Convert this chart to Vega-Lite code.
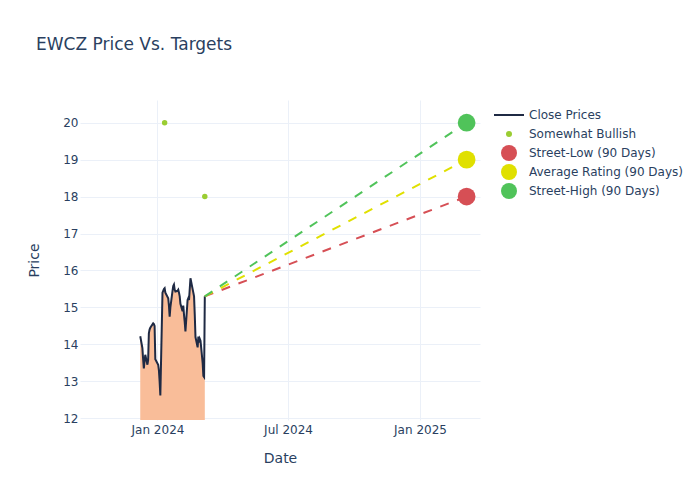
{
  "$schema": "https://vega.github.io/schema/vega-lite/v6.json",
  "width": 400,
  "height": 320,
  "autosize": {"type": "none"},
  "padding": {"left": 80, "top": 100, "right": 220, "bottom": 80},
  "background": "white",
  "title": {"text": "EWCZ Price Vs. Targets", "anchor": "start", "frame": "group", "dx": -44, "offset": 33, "baseline": "alphabetic", "fontSize": 17, "font": "DejaVu Sans", "fontWeight": "normal", "color": "#2a3f5f"},
  "config": {
    "view": {"stroke": null},
    "axis": {"labelFont": "DejaVu Sans", "labelFontSize": 12, "labelColor": "#2a3f5f", "titleFont": "DejaVu Sans", "titleFontSize": 14, "titleFontWeight": "normal", "titleColor": "#2a3f5f", "gridColor": "#ebf0f8", "gridWidth": 1, "domain": false, "ticks": false, "tickSize": 0},
    "legend": {"title": null, "orient": "none", "legendX": 423, "legendY": 9, "symbolSize": 256, "symbolStrokeWidth": 0, "labelFont": "DejaVu Sans", "labelFontSize": 12, "labelColor": "#2a3f5f", "labelOffset": 14, "rowPadding": 3, "gridAlign": "all"}
  },
  "datasets": {
    "prices": [
      {"date": "2023-12-08", "value": 14.22},
      {"date": "2023-12-11", "value": 13.9},
      {"date": "2023-12-12", "value": 13.6},
      {"date": "2023-12-13", "value": 13.35},
      {"date": "2023-12-14", "value": 13.55},
      {"date": "2023-12-15", "value": 13.72},
      {"date": "2023-12-18", "value": 13.45},
      {"date": "2023-12-19", "value": 13.58},
      {"date": "2023-12-20", "value": 14.3},
      {"date": "2023-12-21", "value": 14.4},
      {"date": "2023-12-22", "value": 14.45},
      {"date": "2023-12-26", "value": 14.57},
      {"date": "2023-12-27", "value": 14.55},
      {"date": "2023-12-28", "value": 14.5},
      {"date": "2023-12-29", "value": 13.6},
      {"date": "2024-01-02", "value": 13.45},
      {"date": "2024-01-03", "value": 13.3},
      {"date": "2024-01-04", "value": 13.0},
      {"date": "2024-01-05", "value": 12.62},
      {"date": "2024-01-08", "value": 15.4},
      {"date": "2024-01-09", "value": 15.45},
      {"date": "2024-01-10", "value": 15.5},
      {"date": "2024-01-11", "value": 15.52},
      {"date": "2024-01-12", "value": 15.4},
      {"date": "2024-01-16", "value": 15.25},
      {"date": "2024-01-17", "value": 15.05},
      {"date": "2024-01-18", "value": 14.75},
      {"date": "2024-01-19", "value": 15.0},
      {"date": "2024-01-22", "value": 15.45},
      {"date": "2024-01-23", "value": 15.58},
      {"date": "2024-01-24", "value": 15.62},
      {"date": "2024-01-25", "value": 15.48},
      {"date": "2024-01-26", "value": 15.43},
      {"date": "2024-01-29", "value": 15.45},
      {"date": "2024-01-30", "value": 15.48},
      {"date": "2024-01-31", "value": 15.4},
      {"date": "2024-02-01", "value": 15.3},
      {"date": "2024-02-02", "value": 15.1},
      {"date": "2024-02-05", "value": 14.9},
      {"date": "2024-02-06", "value": 15.05},
      {"date": "2024-02-07", "value": 14.8},
      {"date": "2024-02-08", "value": 14.6},
      {"date": "2024-02-09", "value": 14.35},
      {"date": "2024-02-12", "value": 15.2},
      {"date": "2024-02-13", "value": 15.25},
      {"date": "2024-02-14", "value": 15.2},
      {"date": "2024-02-15", "value": 15.5},
      {"date": "2024-02-16", "value": 15.79},
      {"date": "2024-02-20", "value": 15.4},
      {"date": "2024-02-21", "value": 15.3},
      {"date": "2024-02-22", "value": 14.8},
      {"date": "2024-02-23", "value": 14.2},
      {"date": "2024-02-26", "value": 13.92},
      {"date": "2024-02-27", "value": 14.21},
      {"date": "2024-02-28", "value": 14.05},
      {"date": "2024-02-29", "value": 14.15},
      {"date": "2024-03-01", "value": 14.1},
      {"date": "2024-03-04", "value": 13.5},
      {"date": "2024-03-05", "value": 13.15},
      {"date": "2024-03-06", "value": 13.12},
      {"date": "2024-03-07", "value": 15.3}
    ],
    "bullish": [
      {"date": "2024-01-11", "value": 20, "series": "Somewhat Bullish"},
      {"date": "2024-03-07", "value": 18, "series": "Somewhat Bullish"}
    ],
    "targetLines": [
      {"date": "2024-03-07", "value": 15.3, "series": "Street-Low (90 Days)"},
      {"date": "2025-03-07", "value": 18, "series": "Street-Low (90 Days)"},
      {"date": "2024-03-07", "value": 15.3, "series": "Average Rating (90 Days)"},
      {"date": "2025-03-07", "value": 19, "series": "Average Rating (90 Days)"},
      {"date": "2024-03-07", "value": 15.3, "series": "Street-High (90 Days)"},
      {"date": "2025-03-07", "value": 20, "series": "Street-High (90 Days)"}
    ],
    "targetPoints": [
      {"date": "2025-03-07", "value": 18, "series": "Street-Low (90 Days)"},
      {"date": "2025-03-07", "value": 19, "series": "Average Rating (90 Days)"},
      {"date": "2025-03-07", "value": 20, "series": "Street-High (90 Days)"}
    ]
  },
  "encoding": {
    "x": {"field": "date", "type": "temporal",
      "scale": {"type": "utc", "domain": [{"year": 2023, "month": 9, "date": 15, "utc": true}, {"year": 2025, "month": 3, "date": 25, "hours": 16, "utc": true}]},
      "axis": {"title": "Date", "values": [{"year": 2024, "month": 1, "date": 1, "utc": true}, {"year": 2024, "month": 7, "date": 1, "utc": true}, {"year": 2025, "month": 1, "date": 1, "utc": true}], "format": "%b %Y", "labelPadding": 4, "titleY": 42, "titleBaseline": "alphabetic"}},
    "y": {"field": "value", "type": "quantitative",
      "scale": {"domain": [11.954, 20.614], "zero": false, "nice": false},
      "axis": {"title": "Price", "values": [12, 13, 14, 15, 16, 17, 18, 19, 20], "labelPadding": 2, "titleX": -42, "titleY": 160, "titleBaseline": "alphabetic"}}
  },
  "layer": [
    {
      "data": {"name": "prices"},
      "mark": {"type": "area", "color": "#f9bd99", "opacity": 1, "clip": true},
      "encoding": {
        "y2": {"datum": 0}
      }
    },
    {
      "data": {"name": "prices"},
      "mark": {"type": "line", "strokeWidth": 2},
      "encoding": {
        "color": {"datum": "Close Prices", "type": "nominal",
          "scale": {"domain": ["Close Prices", "Somewhat Bullish", "Street-Low (90 Days)", "Average Rating (90 Days)", "Street-High (90 Days)"], "range": ["#1f2a44", "#9acd32", "#d64f55", "#e0e000", "#50c35a"]},
          "legend": {"title": null,
            "encode": {"symbols": {"update": {
              "shape": {"signal": "datum.value === 'Close Prices' ? 'stroke' : 'circle'"},
              "size": {"signal": "datum.value === 'Close Prices' ? 900 : (datum.value === 'Somewhat Bullish' ? 36 : 256)"},
              "fill": {"signal": "datum.value === 'Close Prices' ? 'transparent' : scale('color', datum.value)"},
              "stroke": {"signal": "datum.value === 'Close Prices' ? scale('color', datum.value) : 'transparent'"},
              "strokeWidth": {"signal": "datum.value === 'Close Prices' ? 2 : 0"},
              "opacity": {"value": 1},
              "fillOpacity": {"value": 1},
              "strokeOpacity": {"value": 1}
            }}}}
        }
      }
    },
    {
      "data": {"name": "targetLines"},
      "mark": {"type": "line", "strokeWidth": 2, "strokeDash": [9, 9]},
      "encoding": {
        "color": {"field": "series", "type": "nominal", "legend": {"title": null}}
      }
    },
    {
      "data": {"name": "bullish"},
      "mark": {"type": "circle", "size": 30, "opacity": 1},
      "encoding": {
        "color": {"field": "series", "type": "nominal", "legend": {"title": null}}
      }
    },
    {
      "data": {"name": "targetPoints"},
      "mark": {"type": "circle", "size": 314, "opacity": 1},
      "encoding": {
        "color": {"field": "series", "type": "nominal", "legend": {"title": null}}
      }
    }
  ]
}
